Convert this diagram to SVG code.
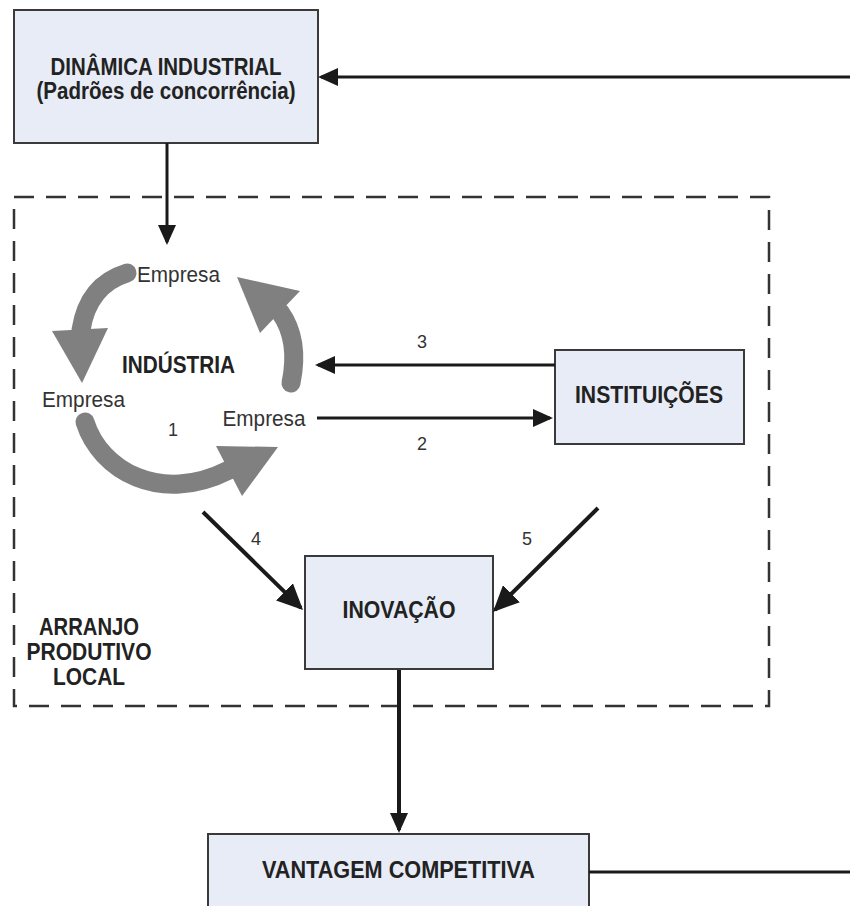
<svg xmlns="http://www.w3.org/2000/svg" width="850" height="906" viewBox="0 0 850 906">
<style>
.box{fill:#e7ecf6;stroke:#3a3a3a;stroke-width:2}
.lbl{font-family:"Liberation Sans",Arial,sans-serif;font-weight:bold;font-size:23px;fill:#222;text-anchor:middle}
.reg{font-family:"Liberation Sans",Arial,sans-serif;font-size:22px;fill:#333;text-anchor:middle}
.num{font-family:"Liberation Sans",Arial,sans-serif;font-size:18px;fill:#333;text-anchor:middle}
.con{stroke:#1a1a1a;stroke-width:3;fill:none}
.thick{stroke:#1a1a1a;stroke-width:4;fill:none}
.arc{stroke:#808080;stroke-width:19;fill:none}
.arch{fill:#808080}
</style>
<defs>
<marker id="ah" markerUnits="userSpaceOnUse" viewBox="0 0 20 18" refX="17" refY="9" markerWidth="20" markerHeight="18" orient="auto">
<path d="M0,0 L20,9 L0,18 z" fill="#1a1a1a"/>
</marker>
<marker id="ahl" markerUnits="userSpaceOnUse" viewBox="0 0 26 24" refX="23" refY="12" markerWidth="26" markerHeight="24" orient="auto">
<path d="M0,0 L26,12 L0,24 z" fill="#1a1a1a"/>
</marker>
</defs>

<g id="apl">
<rect x="14" y="197" width="755" height="509" fill="none" stroke="#333" stroke-width="2.5" stroke-dasharray="20 12"/>
<text class="lbl" x="89" y="635" font-size="21" textLength="100" lengthAdjust="spacingAndGlyphs">ARRANJO</text>
<text class="lbl" x="89" y="660" font-size="21" textLength="125" lengthAdjust="spacingAndGlyphs">PRODUTIVO</text>
<text class="lbl" x="89" y="685" font-size="21" textLength="72" lengthAdjust="spacingAndGlyphs">LOCAL</text>
</g>

<g id="dinamica">
<rect class="box" x="14" y="10" width="304" height="133"/>
<text class="lbl" x="166" y="75" textLength="231" lengthAdjust="spacingAndGlyphs">DINÂMICA INDUSTRIAL</text>
<text class="lbl" x="166" y="99" textLength="259" lengthAdjust="spacingAndGlyphs">(Padrões de concorrência)</text>
</g>

<g id="industria">
<path class="arc" d="M127,273 Q88,285 81,330" stroke-linecap="round"/>
<polygon class="arch" points="52,331 108,328 82,383"/>
<path class="arc" d="M291,383 Q300,340 280,312" stroke-linecap="round"/>
<polygon class="arch" points="260,333 300,291 237,277"/>
<path class="arc" d="M85,422 C100,470 160,505 229,470" stroke-linecap="round"/>
<polygon class="arch" points="216,446 242,496 278,447"/>
<text class="reg" x="178.5" y="282" textLength="83" lengthAdjust="spacingAndGlyphs">Empresa</text>
<text class="reg" x="83.5" y="407" textLength="83" lengthAdjust="spacingAndGlyphs">Empresa</text>
<text class="reg" x="264" y="426" textLength="83" lengthAdjust="spacingAndGlyphs">Empresa</text>
<text class="lbl" x="178.5" y="373" font-size="22" textLength="113" lengthAdjust="spacingAndGlyphs">INDÚSTRIA</text>
<text class="num" x="173" y="436">1</text>
</g>

<g id="instituicoes">
<rect class="box" x="555" y="350" width="189" height="94"/>
<text class="lbl" x="649" y="403" textLength="148" lengthAdjust="spacingAndGlyphs">INSTITUIÇÕES</text>
</g>

<g id="inovacao">
<rect class="box" x="305" y="556" width="188" height="113"/>
<text class="lbl" x="399" y="618" textLength="113" lengthAdjust="spacingAndGlyphs">INOVAÇÃO</text>
</g>

<g id="vantagem">
<rect class="box" x="208" y="834" width="381" height="90"/>
<text class="lbl" x="398.5" y="878" textLength="273" lengthAdjust="spacingAndGlyphs">VANTAGEM COMPETITIVA</text>
</g>

<g id="connectors">
<line class="con" x1="850" y1="77" x2="321" y2="77" marker-end="url(#ah)"/>
<line class="con" x1="167" y1="143" x2="167" y2="242" marker-end="url(#ah)"/>
<line class="con" x1="555" y1="365" x2="318" y2="365" marker-end="url(#ah)"/>
<line class="con" x1="317" y1="418" x2="550" y2="418" marker-end="url(#ah)"/>
<line class="thick" x1="203" y1="512" x2="300.9" y2="607.9" marker-end="url(#ahl)"/>
<line class="thick" x1="598" y1="508" x2="495.1" y2="609.9" marker-end="url(#ahl)"/>
<line class="thick" x1="399" y1="670" x2="399" y2="830" marker-end="url(#ah)"/>
<line class="con" x1="589" y1="872" x2="850" y2="872"/>
<text class="num" x="422" y="348">3</text>
<text class="num" x="422" y="450">2</text>
<text class="num" x="256" y="545">4</text>
<text class="num" x="527" y="545">5</text>
</g>
</svg>
